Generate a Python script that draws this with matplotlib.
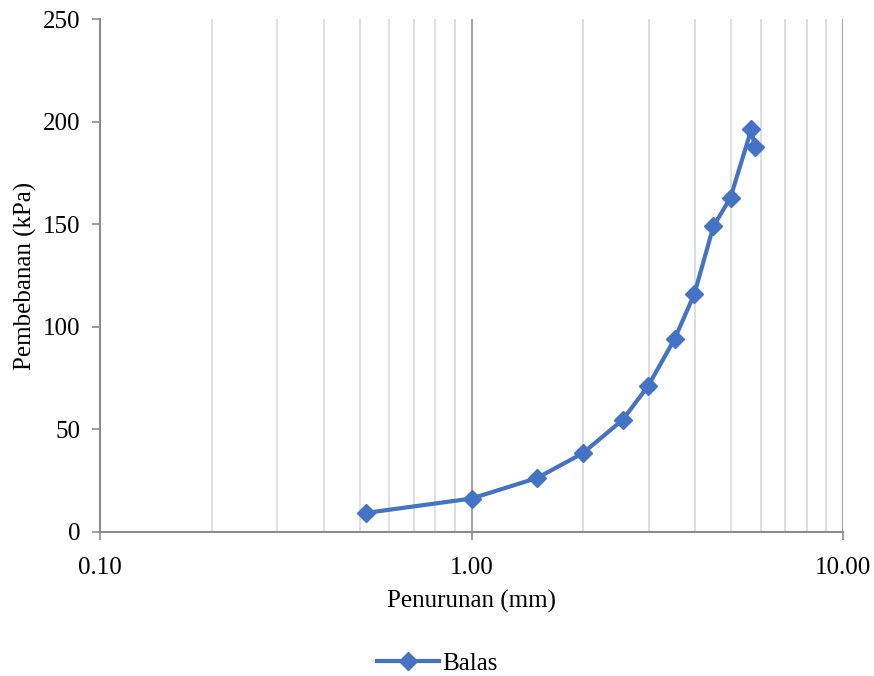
import matplotlib
matplotlib.use('Agg')
import matplotlib.pyplot as plt
from matplotlib.ticker import FixedLocator, NullFormatter, FuncFormatter

# settlement (mm) vs load (kPa)
penurunan = [0.52, 1.0, 1.5, 1.99, 2.55, 2.99, 3.52, 3.98, 4.48, 4.98, 5.67, 5.78]
pembebanan = [9.3, 16.3, 26.3, 38.3, 54.6, 71.2, 94.0, 116.0, 149.0, 163.0, 196.4, 187.8]
series_name = 'Balas'

plt.rcParams['font.family'] = ['Liberation Serif', 'DejaVu Serif']

fig = plt.figure(figsize=(8.74, 6.76), dpi=100)
ax = fig.add_axes([100 / 874, 1 - 532 / 676, 743 / 874, 513 / 676])

blue = '#4472C4'
ax.plot(penurunan, pembebanan, color=blue, lw=3, marker='D', ms=9.5,
        label=series_name, zorder=3)

ax.set_xscale('log')
ax.set_xlim(0.1, 10)
ax.set_ylim(0, 250)
ax.set_yticks(range(0, 251, 50))

ax.xaxis.set_major_locator(FixedLocator([0.1, 1, 10]))
ax.xaxis.set_major_formatter(FuncFormatter(lambda v, p: f'{v:.2f}'))
minors = [m * d for d in (0.1, 1) for m in range(2, 10)]
ax.xaxis.set_minor_locator(FixedLocator(minors))
ax.xaxis.set_minor_formatter(NullFormatter())

# vertical gridlines
for v in minors:
    ax.axvline(v, color='#d9d9d9', lw=1.2, zorder=1)
for v in (1, 10):
    ax.axvline(v, color='#a6a6a6', lw=1.5, zorder=1)

for s in ('top', 'right'):
    ax.spines[s].set_visible(False)
for s in ('left', 'bottom'):
    ax.spines[s].set_color('#8c8c8c')
    ax.spines[s].set_linewidth(1.5)

ax.tick_params(axis='y', which='major', length=6, color='#8c8c8c', width=1.2,
               labelsize=18, pad=8)
ax.tick_params(axis='x', which='major', length=6, color='#8c8c8c', width=1.2,
               labelsize=18, pad=12)
ax.tick_params(axis='x', which='minor', length=0)

ax.set_xlabel('Penurunan (mm)', fontsize=18, labelpad=8)
ax.set_ylabel('Pembebanan (kPa)', fontsize=18, labelpad=4)

fig.legend(loc='lower center', bbox_to_anchor=(0.5, -0.032), frameon=False,
           fontsize=18, handlelength=2.5, handletextpad=0.1)

fig.savefig('out.png', dpi=100)
